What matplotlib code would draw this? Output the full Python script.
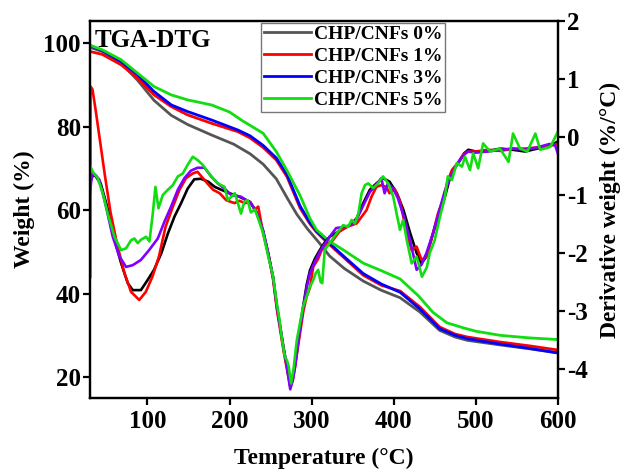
import matplotlib
matplotlib.use("Agg")
import matplotlib.pyplot as plt

plt.rcParams['font.family'] = ['Liberation Serif', 'DejaVu Serif']
plt.rcParams['font.weight'] = 'bold'
plt.rcParams['axes.unicode_minus'] = False

labels = ["CHP/CNFs 0%", "CHP/CNFs 1%", "CHP/CNFs 3%", "CHP/CNFs 5%"]

# ---- TGA (weight %) ----
tga0_t = [30, 45, 68, 88, 108, 129, 149, 178, 205, 225, 241, 257, 270, 282, 295, 310, 322, 340, 363, 385, 408, 432, 456, 475, 490, 530, 565, 600]
tga0_w = [99.0, 98.0, 95.2, 91.1, 86.3, 82.7, 80.5, 78.0, 75.8, 73.5, 71.0, 67.5, 63.0, 59.0, 55.5, 52.0, 49.0, 46.0, 43.0, 40.8, 39.0, 35.6, 31.2, 29.6, 28.8, 27.7, 26.8, 25.8]

tga1_t = [30, 45, 68, 88, 108, 129, 149, 178, 210, 225, 241, 257, 270, 286, 298, 306, 322, 340, 363, 385, 408, 432, 456, 475, 490, 530, 565, 600]
tga1_w = [98.0, 97.3, 94.8, 91.6, 87.6, 84.8, 82.8, 80.8, 78.8, 77.3, 75.0, 72.0, 68.0, 60.5, 56.7, 54.7, 51.7, 48.5, 44.4, 42.0, 40.6, 36.8, 32.0, 30.3, 29.6, 28.4, 27.5, 26.5]

tga3_t = [30, 45, 68, 88, 108, 129, 149, 178, 210, 225, 241, 257, 270, 286, 298, 306, 322, 340, 363, 385, 408, 432, 456, 475, 490, 530, 565, 600]
tga3_w = [99.4, 98.2, 95.6, 92.4, 88.4, 85.2, 83.6, 81.6, 79.2, 77.8, 75.5, 72.5, 68.5, 61.0, 57.0, 55.0, 52.0, 48.8, 44.8, 42.3, 40.3, 36.3, 31.6, 30.0, 29.2, 27.9, 26.9, 25.8]

tga5_t = [30, 45, 68, 88, 108, 129, 149, 178, 200, 215, 241, 257, 270, 286, 298, 306, 322, 340, 363, 385, 408, 430, 448, 465, 485, 500, 530, 565, 600]
tga5_w = [99.5, 98.4, 96.0, 92.8, 89.6, 87.6, 86.4, 85.2, 83.5, 81.5, 78.4, 74.0, 69.5, 63.5, 58.0, 55.3, 52.5, 50.3, 47.3, 45.5, 43.5, 39.5, 35.5, 33.0, 31.8, 31.0, 30.0, 29.4, 29.0]

# ---- DTG (%/°C) ----
dtg0_t = [31, 34, 37, 43, 52, 60, 68, 76, 82, 92, 100, 108, 117, 125, 133, 141, 149, 157, 165, 174, 182, 190, 200, 212, 225, 233, 241, 247, 253, 258, 262, 266, 270, 274, 277, 280, 283, 286, 290, 294, 298, 304, 310, 316, 322, 334, 347, 355, 363, 371, 379, 387, 395, 404, 412, 420, 428, 434, 440, 448, 454, 459, 464, 469, 475, 481, 486, 491, 500, 515, 530, 545, 560, 575, 590, 600]
dtg0_v = [-0.75, -0.64, -0.68, -0.80, -1.26, -1.78, -2.18, -2.52, -2.64, -2.64, -2.47, -2.29, -2.0, -1.66, -1.37, -1.14, -0.89, -0.73, -0.72, -0.77, -0.86, -0.91, -0.97, -1.03, -1.12, -1.3, -1.62, -2.0, -2.41, -2.95, -3.3, -3.65, -3.96, -4.28, -4.15, -3.9, -3.6, -3.27, -2.9, -2.55, -2.3, -2.1, -1.95, -1.82, -1.72, -1.62, -1.52, -1.40, -1.14, -0.91, -0.80, -0.71, -0.77, -0.97, -1.26, -1.65, -2.0, -2.18, -2.06, -1.66, -1.4, -1.2, -0.95, -0.68, -0.52, -0.40, -0.28, -0.22, -0.25, -0.24, -0.2, -0.22, -0.25, -0.2, -0.15, -0.08]

dtg1_t = [30.3, 30.6, 33, 37, 42, 48, 55, 63, 72, 80, 90, 98, 106, 114, 122, 131, 139, 147, 155, 161, 167, 173, 180, 188, 196, 206, 212, 219, 225, 231, 235, 241, 247, 253, 258, 262, 266, 270, 274, 277, 280, 283, 286, 290, 294, 298, 302, 308, 314, 320, 326, 334, 343, 355, 367, 373, 379, 385, 391, 395, 401, 408, 416, 422, 428, 434, 440, 448, 454, 460, 465, 471, 478, 485, 491, 500, 515, 530, 545, 560, 575, 590, 600]
dtg1_v = [-2.41, 0.87, 0.82, 0.45, -0.05, -0.65, -1.3, -1.85, -2.35, -2.67, -2.81, -2.67, -2.41, -2.06, -1.55, -1.2, -0.91, -0.71, -0.63, -0.60, -0.70, -0.80, -0.91, -0.97, -1.09, -1.14, -1.1, -1.14, -1.12, -1.25, -1.2, -1.66, -2.0, -2.45, -3.0, -3.35, -3.7, -4.0, -4.3, -4.2, -3.95, -3.65, -3.38, -3.0, -2.75, -2.6, -2.24, -2.1, -1.89, -1.85, -1.78, -1.63, -1.55, -1.49, -1.26, -1.03, -0.86, -0.83, -0.86, -0.97, -0.89, -1.12, -1.66, -1.95, -1.89, -2.12, -2.06, -1.66, -1.32, -1.09, -0.8, -0.57, -0.45, -0.3, -0.25, -0.25, -0.22, -0.24, -0.2, -0.2, -0.18, -0.15, -0.12]

dtg3_t = [30, 31.5, 33.3, 37, 41.5, 49.5, 57.7, 65.9, 73.9, 82, 92, 102, 112.6, 120.7, 128.8, 137, 145, 153, 161, 169.5, 177.6, 185.7, 194, 202, 214, 226, 233, 241, 247, 253, 258, 262, 266, 270, 274, 277, 280, 283, 286, 290, 294, 298, 304, 310, 316, 322, 330, 340, 347, 355, 363, 371, 379, 385, 389, 393, 399, 405, 412, 420, 428, 434, 440, 448, 455, 462, 469, 476, 483, 490, 500, 515, 530, 545, 560, 575, 590, 597, 600]
dtg3_v = [-0.97, -0.75, -0.63, -0.66, -0.74, -1.2, -1.72, -2.06, -2.24, -2.21, -2.12, -1.95, -1.75, -1.46, -1.2, -0.91, -0.71, -0.58, -0.53, -0.53, -0.68, -0.80, -0.89, -1.0, -1.03, -1.14, -1.3, -1.62, -2.0, -2.41, -2.95, -3.3, -3.65, -3.98, -4.35, -4.2, -3.95, -3.62, -3.3, -2.92, -2.6, -2.35, -2.15, -1.98, -1.85, -1.72, -1.57, -1.55, -1.52, -1.42, -1.18, -0.95, -0.82, -0.71, -0.97, -0.8, -0.88, -1.05, -1.35, -1.78, -2.29, -2.2, -2.0, -1.66, -1.3, -0.95, -0.7, -0.5, -0.35, -0.25, -0.27, -0.25, -0.22, -0.2, -0.22, -0.18, -0.12, -0.15, -0.28]

dtg5_t = [29.7, 33.3, 39.4, 45.5, 51.6, 59.8, 67.8, 73.9, 80, 84.1, 88.2, 92.2, 98.3, 102.4, 106.5, 109.7, 113.4, 118.7, 124.8, 130.9, 137, 143, 149, 155.2, 161.3, 167.4, 173.5, 179.6, 185.7, 193.9, 198, 206.5, 214, 218, 222, 226, 231, 236, 241, 247, 253, 258, 261, 264, 267.5, 270, 272, 275, 278, 282, 286, 289.5, 294, 298, 302, 305, 308, 311, 313, 316, 322, 330.5, 338.5, 344.6, 348.8, 352.8, 357, 361, 365, 369, 375, 381, 387, 393.5, 399.5, 403.6, 407.7, 411.7, 416, 422, 428, 434.5, 440.6, 444, 450, 456.5, 462.6, 466, 471, 477, 483.3, 487, 493, 497, 503, 509, 517.6, 529.6, 540, 545.5, 554, 563, 572.7, 578.6, 591, 600]
dtg5_v = [-0.48, -0.6, -0.71, -0.97, -1.32, -1.72, -1.95, -1.92, -1.78, -1.75, -1.83, -1.77, -1.72, -1.80, -1.32, -0.86, -1.23, -1.0, -0.91, -0.83, -0.68, -0.63, -0.48, -0.34, -0.40, -0.48, -0.6, -0.71, -0.8, -0.86, -1.09, -0.97, -1.32, -1.12, -1.09, -1.3, -1.25, -1.45, -1.66, -2.05, -2.4, -2.9, -3.16, -3.5, -3.79, -3.85, -3.95, -4.25, -4.0, -3.5, -3.2, -2.93, -2.75, -2.58, -2.47, -2.35, -2.29, -2.5, -2.52, -1.95, -1.83, -1.66, -1.52, -1.55, -1.43, -1.49, -1.32, -0.97, -0.83, -0.80, -0.88, -0.80, -0.68, -0.8, -1.03, -1.32, -1.6, -1.43, -1.78, -2.18, -2.06, -2.41, -2.24, -2.0, -1.78, -1.37, -1.03, -0.68, -0.74, -0.45, -0.51, -0.34, -0.57, -0.28, -0.54, -0.11, -0.25, -0.2, -0.43, 0.06, -0.2, -0.25, 0.06, -0.22, -0.17, 0.09]

tga_colors = ['#555555', '#ff0000', '#0000ff', '#11dd11']
dtg_colors = ['#000000', '#ff0000', '#7f00ff', '#11dd11']

fig = plt.figure(figsize=(6.26, 4.72), dpi=100)
ax = fig.add_axes([0.1438, 0.1568, 0.7472, 0.7987])
ax2 = ax.twinx()

tga_sets = [(tga0_t, tga0_w), (tga1_t, tga1_w), (tga3_t, tga3_w), (tga5_t, tga5_w)]
handles = []
for (t, w), c, lab in zip(tga_sets, tga_colors, labels):
    h, = ax.plot(t, w, color=c, lw=2.0, label=lab, solid_joinstyle='round')
    handles.append(h)

dtg_sets = [(dtg0_t, dtg0_v), (dtg1_t, dtg1_v), (dtg3_t, dtg3_v), (dtg5_t, dtg5_v)]
for (t, v), c in zip(dtg_sets, dtg_colors):
    ax2.plot(t, v, color=c, lw=1.9, solid_joinstyle='round')

ax.set_xlim(30, 600)
ax.set_ylim(15, 105.3)
ax2.set_ylim(-4.5, 2)
ax.set_xticks([100, 200, 300, 400, 500, 600])
ax.set_yticks([20, 40, 60, 80, 100])
ax2.set_yticks([-4, -3, -2, -1, 0, 1, 2])

for a in (ax, ax2):
    for s in a.spines.values():
        s.set_linewidth(1.6)
ax.tick_params(axis='both', which='major', direction='out', length=5, width=1.6, labelsize=18)
ax.tick_params(axis='x', pad=3.5)
ax.tick_params(axis='y', pad=1.5)
ax2.tick_params(axis='y', direction='out', length=5, width=1.6, labelsize=18, pad=2)

ax.set_xlabel('Temperature (°C)', fontsize=17, fontweight='bold', labelpad=11)
ax.set_ylabel('Weight (%)', fontsize=17, fontweight='bold', labelpad=6)
ax2.set_ylabel('Derivative weight (%/°C)', fontsize=17, fontweight='bold', labelpad=8)

ax.text(0.009, 0.931, 'TGA-DTG', transform=ax.transAxes, fontsize=18, fontweight='bold',
        va='baseline', ha='left')

leg = ax2.legend(handles, labels, loc='upper left', bbox_to_anchor=(0.3656, 0.9955),
                 borderaxespad=0, fontsize=14, frameon=True, fancybox=False,
                 edgecolor='#777777', framealpha=1, handlelength=2.4, handletextpad=0.15,
                 borderpad=0.15, labelspacing=0.22)
leg.get_frame().set_linewidth(1.0)
for t in leg.get_texts():
    t.set_fontweight('bold')

fig.savefig('out.png', dpi=100)
